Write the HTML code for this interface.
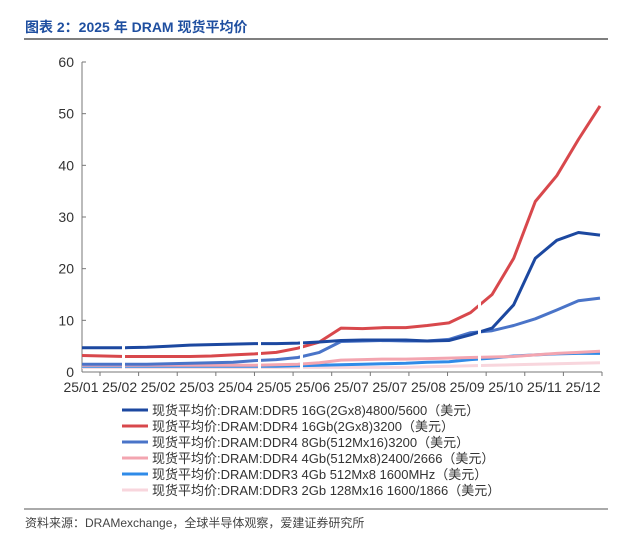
<!DOCTYPE html>
<html><head><meta charset="utf-8"><style>
body{margin:0;background:#fff;width:620px;height:535px;overflow:hidden;font-family:"Liberation Sans","Noto Sans CJK SC",sans-serif}
</style></head><body>
<svg width="620" height="535" xmlns="http://www.w3.org/2000/svg">
<text x="25" y="32" font-size="14" font-weight="bold" fill="#1f4fa0" font-family="Liberation Sans,Noto Sans CJK SC,sans-serif">图表 2：2025 年 DRAM 现货平均价</text>
<line x1="24" y1="39" x2="608" y2="39" stroke="#555" stroke-width="1.5"/>
<g id="axes"></g>
<g id="series"></g>
<g id="legend"></g>
<line x1="24" y1="509" x2="608" y2="509" stroke="#555" stroke-width="1"/>
<text x="25" y="527" font-size="12" fill="#444">资料来源：DRAMexchange，全球半导体观察，爱建证券研究所</text>
</svg>
<script>
const xLabels=["25/01","25/02","25/02","25/03","25/04","25/05","25/06","25/07","25/07","25/08","25/09","25/10","25/11","25/12"];
const yTicks=[0,10,20,30,40,50,60];
const seriesNames=["现货平均价:DRAM:DDR5 16G(2Gx8)4800/5600（美元）","现货平均价:DRAM:DDR4 16Gb(2Gx8)3200（美元）","现货平均价:DRAM:DDR4 8Gb(512Mx16)3200（美元）","现货平均价:DRAM:DDR4 4Gb(512Mx8)2400/2666（美元）","现货平均价:DRAM:DDR3 4Gb 512Mx8 1600MHz（美元）","现货平均价:DRAM:DDR3 2Gb 128Mx16 1600/1866（美元）"];
const ddr5=[4.7,4.7,4.7,4.8,5.0,5.2,5.3,5.4,5.5,5.5,5.6,5.8,6.1,6.2,6.2,6.2,6.0,6.1,7.2,8.5,13,22,25.5,27,26.5];
const ddr4_16=[3.2,3.1,3.0,3.0,3.0,3.0,3.1,3.3,3.5,3.8,4.6,5.8,8.5,8.4,8.6,8.6,9.0,9.5,11.5,15,22,33,38,45,51.5];
const ddr4_8=[1.5,1.5,1.5,1.5,1.6,1.7,1.8,1.9,2.2,2.4,2.8,3.8,5.9,6.0,6.1,6.0,6.0,6.3,7.6,8.0,9.0,10.3,12,13.8,14.3];
const ddr4_4=[1.3,1.3,1.3,1.3,1.3,1.3,1.3,1.3,1.3,1.4,1.5,1.8,2.3,2.4,2.5,2.5,2.6,2.7,2.8,2.9,3.0,3.3,3.6,3.8,4.0];
const ddr3_4=[1.1,1.1,1.1,1.1,1.1,1.1,1.1,1.1,1.1,1.1,1.2,1.3,1.4,1.5,1.6,1.7,1.9,2.0,2.4,2.7,3.1,3.3,3.5,3.6,3.6];
const ddr3_2=[0.9,0.9,0.9,0.9,0.9,0.9,0.9,0.9,0.9,0.9,0.9,0.9,0.9,0.9,0.9,0.9,1.0,1.1,1.2,1.3,1.4,1.5,1.6,1.7,1.8];
const NS="http://www.w3.org/2000/svg";
const X0=82,X1=600,Y0=372,Y1=62;
function yS(v){return Y0-(v/60)*(Y0-Y1);}
function xS(i,n){return X0+i*(X1-X0)/(n-1);}
function mk(tag,attrs,parent){const e=document.createElementNS(NS,tag);for(const k in attrs)e.setAttribute(k,attrs[k]);parent.appendChild(e);return e;}
const axes=document.getElementById('axes');
let yl=mk('line',{x1:X0,y1:Y1,x2:X0,y2:Y0,stroke:'#777','stroke-width':1},axes);


let xl=mk('line',{x1:X0,y1:Y0,x2:X1+2,y2:Y0,stroke:'#777','stroke-width':1},axes);


yTicks.forEach(v=>{
 mk('line',{x1:X0,y1:yS(v),x2:X0+4,y2:yS(v),stroke:'#777'},axes);
 let t=mk('text',{x:X0-8,y:yS(v)+5,'font-size':14,'text-anchor':'end',fill:'#333'},axes);
 t.textContent=v;
 
 
});
xLabels.forEach((l,i)=>{
 const cx=81+i*(583-81)/(xLabels.length-1);
 mk('line',{x1:cx+19,y1:Y0,x2:cx+19,y2:Y0+4,stroke:'#777'},axes);
 let t=mk('text',{x:cx,y:Y0+20,'font-size':13.5,'text-anchor':'middle',fill:'#333',textLength:35,lengthAdjust:'spacingAndGlyphs'},axes);
 t.textContent=l;
 
 
});
const data=[ddr5,ddr4_16,ddr4_8,ddr4_4,ddr3_4,ddr3_2];
const colors=["#1c48a0","#d8484c","#4a74c8","#f3a5b0","#2f8be8","#f8d6dd"];
const keys=["ddr5-16g","ddr4-16gb","ddr4-8gb","ddr4-4gb","ddr3-4gb","ddr3-2gb"];
const sg=document.getElementById('series');
for(let s=data.length-1;s>=0;s--){
 const arr=data[s];
 const d=arr.map((v,i)=>(i?'L':'M')+xS(i,arr.length).toFixed(1)+','+yS(v).toFixed(1)).join(' ');
 let p=mk('path',{d:d,fill:'none',stroke:colors[s],'stroke-width':3,'stroke-linejoin':'round'},sg);
 
 
}
[122,258,300,478].forEach(x=>{mk('rect',{x:x,y:Y1+10,width:3,height:Y0-Y1-12,fill:'#fff'},sg);});
const lg=document.getElementById('legend');
seriesNames.forEach((n,i)=>{
 const y=410+i*16;
 let l=mk('line',{x1:122,y1:y,x2:148,y2:y,stroke:colors[i],'stroke-width':3},lg);
 
 
 let t=mk('text',{x:152,y:y+5,'font-size':13,fill:'#333'},lg);
 t.textContent=n;
 
 
});
</script>
</body></html>
